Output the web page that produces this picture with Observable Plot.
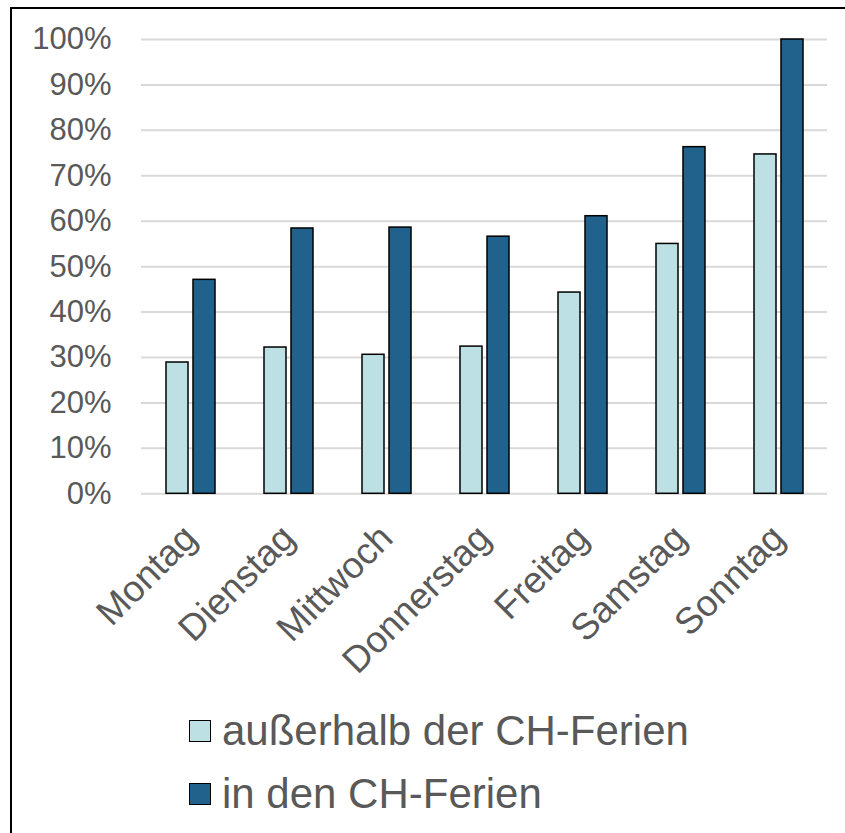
<!DOCTYPE html>
<html>
<head>
<meta charset="utf-8">
<script src="https://cdn.jsdelivr.net/npm/d3@7"></script>
<script src="https://cdn.jsdelivr.net/npm/@observablehq/plot@0.6"></script>
<style>
  html, body { margin: 0; padding: 0; background: #fff; }
  #page { position: relative; width: 845px; height: 833px; overflow: hidden; font-family: "Liberation Sans", Arial, sans-serif; }
  #border { position: absolute; left: 10px; top: 7px; right: -20px; bottom: -20px; border-left: 2px solid #000; border-top: 2px solid #000; }
  #chart { position: absolute; left: 0; top: 0; }
  #chart svg g[aria-label^="y-axis"] text { font-size: 31px; fill: #595959; }
  #chart svg g[aria-label^="fx-axis"] text { font-size: 37px; fill: #595959; }
  .legend-row { position: absolute; left: 189px; height: 63px; display: flex; align-items: center; font-size: 42px; color: #595959; white-space: nowrap; }
  .legend-row .sw { width: 22px; height: 22px; box-sizing: border-box; border: 1.5px solid #000; margin-right: 11px; }
</style>
</head>
<body>
<div id="page">
  <div id="border"></div>
  <div id="chart"></div>
  <div id="legend"></div>
</div>
<script>
const days = ["Montag", "Dienstag", "Mittwoch", "Donnerstag", "Freitag", "Samstag", "Sonntag"];
const series = ["außerhalb der CH-Ferien", "in den CH-Ferien"];
const outside = [0.289, 0.322, 0.306, 0.324, 0.443, 0.550, 0.747];
const inside = [0.471, 0.584, 0.586, 0.566, 0.611, 0.763, 1.000];
const yTicks = [0, 0.1, 0.2, 0.3, 0.4, 0.5, 0.6, 0.7, 0.8, 0.9, 1.0];
const colors = ["#bce0e4", "#20628c"];

const data = days.flatMap((d, i) => [
  {day: d, series: series[0], value: outside[i]},
  {day: d, series: series[1], value: inside[i]}
]);

const chart = Plot.plot({
  width: 845,
  height: 700,
  marginLeft: 138,
  marginRight: 15,
  marginTop: 39,
  marginBottom: 206.7,
  style: {fontFamily: "'Liberation Sans', Arial, sans-serif", color: "#595959", background: "transparent", overflow: "visible"},
  fx: {domain: days, padding: 0, label: null, tickSize: 0, tickRotate: -45, tickPadding: 38},
  x: {domain: series, paddingInner: 0.2, paddingOuter: 0.86, axis: null},
  y: {domain: [0, 1], ticks: yTicks, tickFormat: d => Math.round(d * 100) + "%", tickSize: 0, tickPadding: 30, label: null},
  color: {domain: series, range: colors},
  marks: [
    Plot.ruleY(yTicks, {stroke: "#d9d9d9", strokeWidth: 2}),
    Plot.barY(data, {fx: "day", x: "series", y: "value", fill: "series", stroke: "#000", strokeWidth: 1.5})
  ]
});
document.getElementById("chart").appendChild(chart);

const colorScale = chart.scale("color");
const legend = document.getElementById("legend");
const rowTops = [699.5, 762.5];
series.forEach((s, i) => {
  const row = document.createElement("div");
  row.className = "legend-row";
  row.style.top = rowTops[i] + "px";
  const sw = document.createElement("div");
  sw.className = "sw";
  sw.style.background = colorScale.apply(s);
  const label = document.createElement("span");
  label.textContent = s;
  row.appendChild(sw);
  row.appendChild(label);
  legend.appendChild(row);
});
</script>
</body>
</html>
